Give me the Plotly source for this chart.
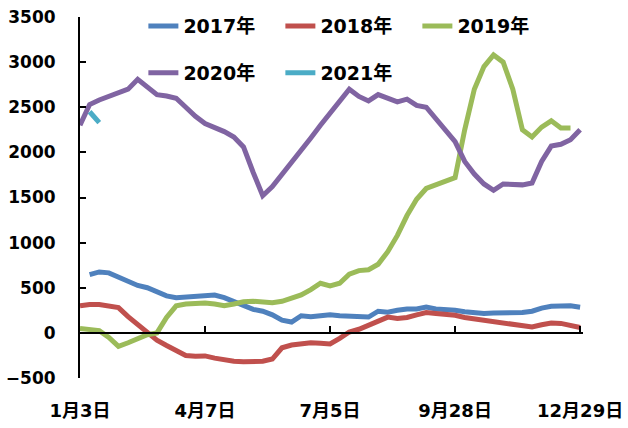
import plotly.graph_objects as go

# week index along the year (category positions)
weeks = list(range(53))
tick_idx = [0, 13, 26, 39, 52]
tick_text = ["1月3日", "4月7日", "7月5日", "9月28日", "12月29日"]

series_names = ["2017年", "2018年", "2019年", "2020年", "2021年"]
series_colors = ["#4F81BD", "#C0504D", "#9BBB59", "#8064A2", "#4BACC6"]

y2017 = [None, 645, 675, 665, 620, 575, 525, 500, 450, 410,
         390, 400, 410, 420, 420, 390, 350, 300, 260, 240,
         200, 140, 120, 190, 180, 190, 200, 190, 185, 180,
         175, 240, 230, 250, 265, 265, 285, 265, 260, 250,
         235, 220, 215, 220, 220, 220, 225, 240, 275, 295,
         300, 300, 285]

y2018 = [300, 315, 315, 300, 280, 180, 90, 10, -80, -140,
         -190, -250, -260, -255, -280, -300, -315, -320, -320, -315,
         -290, -165, -135, -120, -110, -115, -122, -60, 10, 40,
         90, 130, 175, 160, 170, 200, 225, 215, 210, 195,
         170, 155, 140, 130, 115, 90, 75, 65, 90, 110,
         105, 80, 60]

y2019 = [50, 40, 25, -50, -150, -110, -60, -20, 0, 170,
         300, 320, 325, 330, 320, 300, 320, 345, 350, 340,
         335, 350, 380, 420, 480, 550, 520, 550, 650, 690,
         700, 760, 900, 1080, 1300, 1480, 1600, 1640, 1680, 1720,
         2250, 2700, 2950, 3080, 3000, 2700, 2250, 2170, 2280, 2350,
         2270, 2270, None]

y2020 = [2300, 2530, 2580, 2620, 2660, 2700, 2810, 2720, 2640, 2625,
         2600, 2500, 2400, 2320, 2280, 2230, 2170, 2060, 1780, 1520,
         1620, 1750, 1880, 2020, 2160, 2300, 2440, 2580, 2700, 2620,
         2570, 2640, 2600, 2560, 2590, 2520, 2500, 2380, 2250, 2120,
         1900, 1760, 1650, 1580, 1650, 1640, 1640, 1660, 1900, 2070,
         2090, 2140, 2250]

y2021 = [None, 2450, 2330] + [None] * 50

series_values = [y2017, y2018, y2019, y2020, y2021]
legend_of = ["legend", "legend", "legend", "legend2", "legend2"]

FONT = "DejaVu Sans, Noto Sans CJK SC, sans-serif"

fig = go.Figure()
for name, color, vals, lg in zip(series_names, series_colors, series_values, legend_of):
    fig.add_trace(go.Scatter(
        x=weeks, y=vals, name=name, mode="lines",
        line=dict(color=color, width=5),
        connectgaps=False, legend=lg,
        xaxis="x2" if name == "2021年" else "x",
    ))

XR = [0, 52.3]
LEGEND_FONT = dict(size=19, family=FONT, weight="bold", color="black")
fig.update_layout(
    width=628, height=428,
    margin=dict(l=80, r=45, t=17, b=50, autoexpand=False),
    paper_bgcolor="white", plot_bgcolor="white",
    font=dict(family=FONT, size=17, color="black", weight="bold"),
    xaxis=dict(
        range=XR, tickmode="array", tickvals=tick_idx, ticktext=tick_text,
        showline=False, showgrid=False, zeroline=False, ticks="",
        tickfont=dict(size=18, family=FONT, weight="bold", color="black"),
        ticklabelstandoff=20,
    ),
    xaxis2=dict(
        range=XR, overlaying="x", anchor="free", position=0.125,
        tickmode="array", tickvals=tick_idx, showticklabels=False,
        showline=True, linecolor="black", linewidth=2,
        ticks="inside", ticklen=6, tickwidth=2, tickcolor="black",
        showgrid=False, zeroline=False,
    ),
    yaxis=dict(
        range=[-500, 3500], dtick=500, tick0=0,
        showline=True, linecolor="black", linewidth=2,
        ticks="inside", ticklen=6, tickwidth=2, tickcolor="black",
        showgrid=False, zeroline=False,
        tickfont=dict(size=17, family=FONT, weight="bold", color="black"),
        ticklabelstandoff=19,
    ),
    legend=dict(
        orientation="h", x=0.126, xanchor="left", y=0.975, yanchor="middle",
        entrywidth=92, entrywidthmode="pixels",
        font=LEGEND_FONT, bgcolor="rgba(0,0,0,0)",
    ),
    legend2=dict(
        orientation="h", x=0.126, xanchor="left", y=0.845, yanchor="middle",
        entrywidth=92, entrywidthmode="pixels",
        font=LEGEND_FONT, bgcolor="rgba(0,0,0,0)",
    ),
)

fig.write_html(
    "out.html",
    config={"displayModeBar": False},
    post_script="document.body.style.margin='0';",
)
